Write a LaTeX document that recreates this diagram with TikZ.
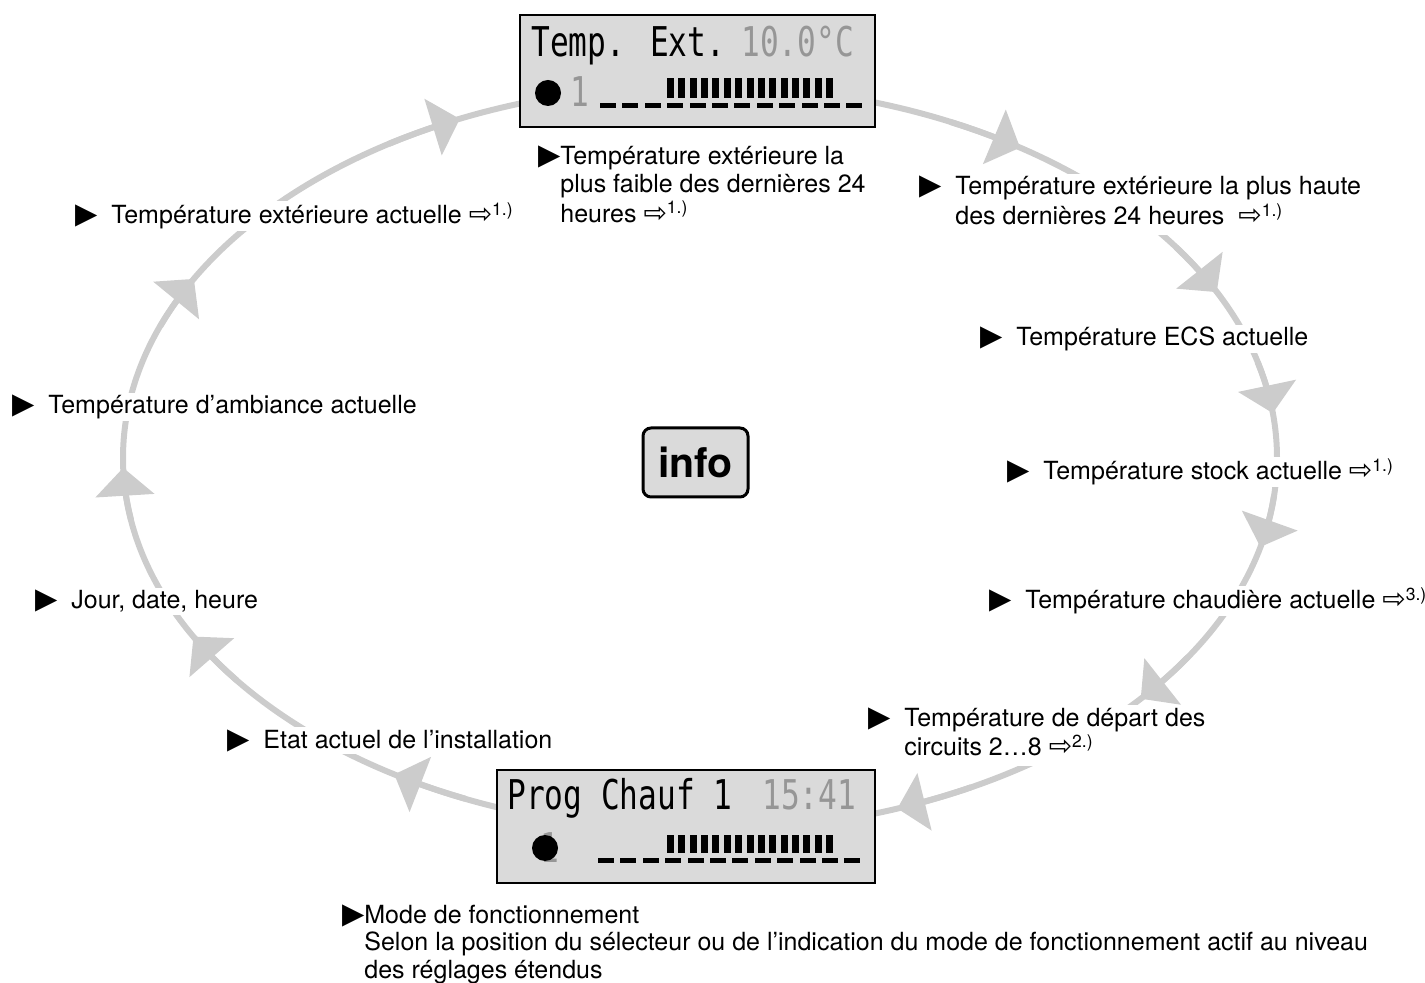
\documentclass[tikz,border=0pt]{standalone}
\usepackage{fontspec}
\setmainfont{TeX Gyre Heros}
\newfontfamily\glyphfont{DejaVu Sans}
\newfontfamily\lcdfont[FakeStretch=0.76]{DejaVu Sans Mono}
\usetikzlibrary{arrows.meta}
\definecolor{ring}{RGB}{204, 204, 204}
\definecolor{screen}{RGB}{218, 218, 218}
\definecolor{dim}{RGB}{150, 150, 150}

\newcommand{\bul}[1][18pt]{\makebox[#1][l]{\glyphfont\fontsize{14.5}{14.5}\selectfont ▶}}
\newcommand{\reff}[1]{{\glyphfont\fontsize{14}{14}\selectfont ⇨}\textsuperscript{#1.)}}

\begin{document}
\begin{tikzpicture}[x=0.5pt, y=-0.5pt,
  flow/.style={draw=ring, line width=3pt},
  lbl/.style={anchor=base west, fill=white, inner sep=1pt, font=\fontsize{12.5}{13.75}\selectfont},
  lcd/.style={anchor=base west, inner sep=0pt, font=\lcdfont\fontsize{20.5}{20.5}\selectfont},
  screenbox/.style={fill=screen, draw=black, line width=1pt}]
  \useasboundingbox (0,0) rectangle (1425,983);

  % Cycle
  \draw [flow] (700,458) ellipse [x radius=288.5pt, y radius=186.5pt];
  \foreach \t in {-56.3, -26.4, -6.9, 13.8, 40.2, 70, 122, 151.4, 178.5, 208.7, 245.4} {
    \pgfmathsetmacro{\ts}{\t - 8}
    \draw [flow, -{Triangle[length=14pt, width=29pt]}] plot [domain=\ts:\t, samples=6] ({700 + 577*cos(\x)}, {458 + 373*sin(\x)});
  }

  % Labels
  \node (outnow) at (73,224) [lbl] {\bul Température extérieure actuelle \reff{1}};
  \node (outmin) at (536,165) [lbl] {\bul[11pt]\begin{tabular}[t]{@{}l@{}}Température extérieure la\\plus faible des dernières 24\\heures \reff{1}\end{tabular}};
  \node (outmax) at (917,195) [lbl] {\bul\begin{tabular}[t]{@{}l@{}}Température extérieure la plus haute\\des dernières 24 heures\ \ \reff{1}\end{tabular}};
  \node (ecs) at (978,346) [lbl] {\bul Température ECS actuelle};
  \node (stock) at (1005,480) [lbl] {\bul Température stock actuelle \reff{1}};
  \node (boiler) at (987,609) [lbl] {\bul Température chaudière actuelle \reff{3}};
  \node (flowtemp) at (866,726) [lbl] {\bul\begin{tabular}[t]{@{}l@{}}Température de départ des\\circuits 2…8 \reff{2}\end{tabular}};
  \node (state) at (225,748) [lbl] {\bul Etat actuel de l’installation};
  \node (clock) at (33,609) [lbl] {\bul Jour, date, heure};
  \node (room) at (10,414) [lbl] {\bul Température d’ambiance actuelle};
  \node (mode) at (340,923) [lbl] {\bul[11pt]\begin{tabular}[t]{@{}l@{}}Mode de fonctionnement\\Selon la position du sélecteur ou de l’indication du mode de fonctionnement actif au niveau\\des réglages étendus\end{tabular}};

  % Top display
  \filldraw [screenbox] (520,15) rectangle (875,127);
  \node (toptext) at (531,57) [lcd] {Temp. Ext.};
  \node (topval) at (741,57) [lcd, text=dim] {10.0°C};
  \fill (548,93) circle [radius=6.5pt];
  \node (topnum) at (570,107) [lcd, text=dim] {1};
  \foreach \i in {0,...,14} \fill (667 + 11.36*\i, 78) rectangle +(7,20);
  \foreach \i in {0,...,11} \fill (600 + 22.4*\i, 103) rectangle +(16,5);

  % Bottom display
  \filldraw [screenbox] (497,770) rectangle (875,883);
  \node (bottext) at (507,810) [lcd] {Prog Chauf 1};
  \node (botval) at (762,810) [lcd, text=dim] {15:41};
  \node (botnum) at (540,862) [lcd, text=dim] {1};
  \fill (545,848) circle [radius=6.5pt];
  \foreach \i in {0,...,14} \fill (667 + 11.36*\i, 835) rectangle +(7,18);
  \foreach \i in {0,...,11} \fill (598 + 22.4*\i, 858) rectangle +(16,5);

  % Info key
  \node (info) at (695.5,462.5) [draw, line width=1.5pt, fill=screen, rounded corners=4pt, minimum width=52.5pt, minimum height=34.5pt, font=\bfseries\fontsize{20.5}{20.5}\selectfont] {info};
\end{tikzpicture}
\end{document}
